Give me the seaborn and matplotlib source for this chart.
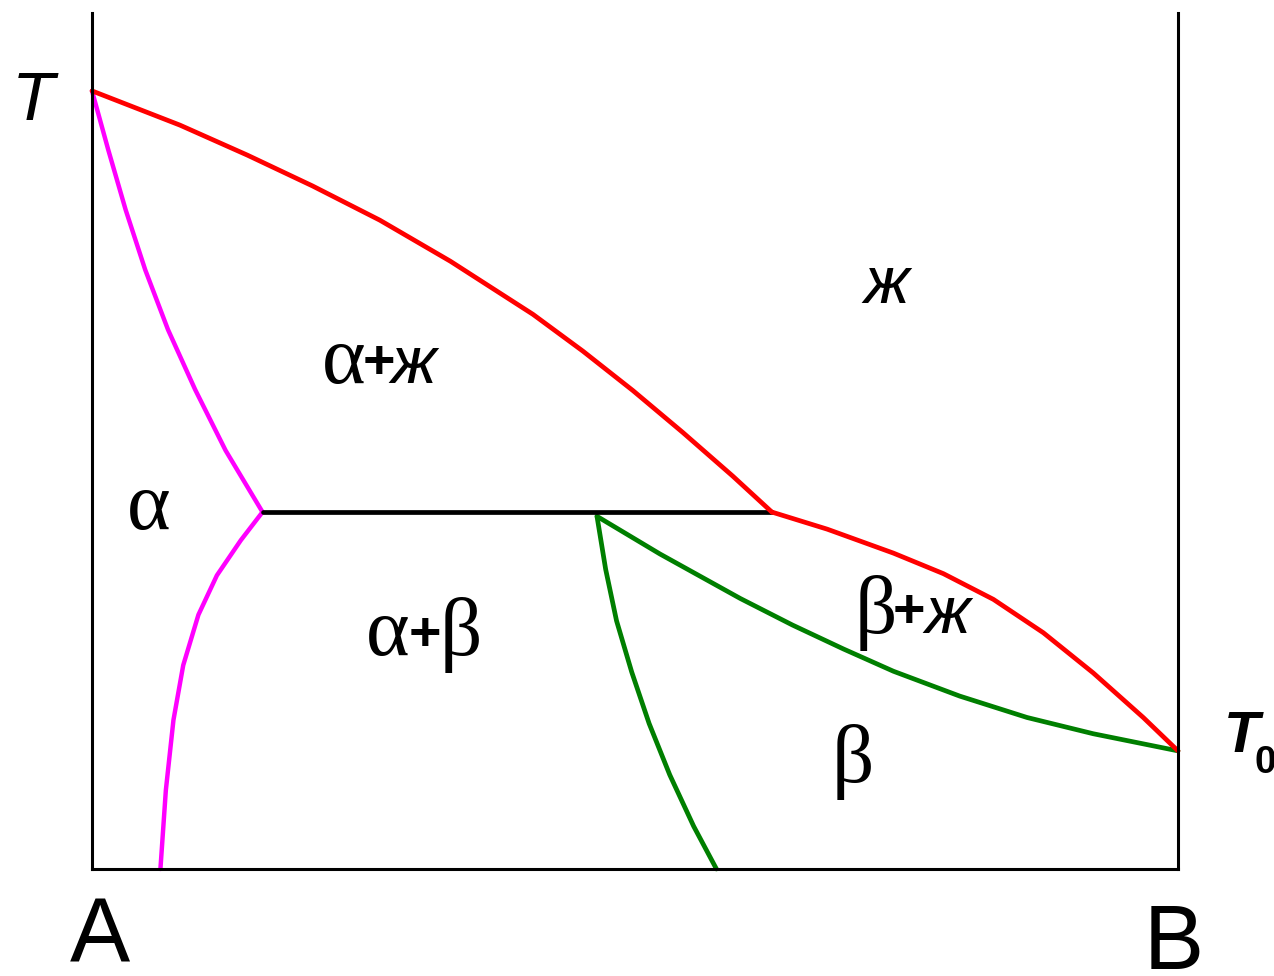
import matplotlib
matplotlib.use("Agg")
import matplotlib.pyplot as plt
import seaborn as sns
import pandas as pd

# Binary eutectic phase diagram A–B (composition in % B, temperature in relative units)
liquidus_a_comp = [0.0, 8.1, 14.3, 20.3, 26.5, 33.0, 40.6, 45.2, 49.8, 54.4, 59.0, 62.6]
liquidus_a_temp = [90.9, 86.9, 83.4, 79.8, 75.8, 71.0, 64.8, 60.5, 55.9, 51.0, 45.9, 41.7]

liquidus_b_comp = [62.6, 67.7, 73.8, 78.4, 83.0, 87.6, 92.2, 96.8, 100.0]
liquidus_b_temp = [41.7, 39.7, 36.9, 34.5, 31.5, 27.6, 22.9, 17.7, 13.8]

solidus_b_comp = [46.5, 52.3, 59.7, 64.5, 69.2, 73.8, 79.9, 86.1, 92.2, 100.0]
solidus_b_temp = [41.2, 36.8, 31.6, 28.5, 25.7, 23.1, 20.2, 17.7, 15.8, 13.8]

solvus_b_comp = [46.5, 47.3, 48.3, 49.7, 51.3, 53.2, 55.4, 57.5]
solvus_b_temp = [41.2, 35.0, 29.0, 23.0, 17.0, 11.0, 5.0, 0.0]

solidus_a_comp = [0.0, 1.5, 3.1, 4.9, 7.0, 9.5, 12.3, 15.7]
solidus_a_temp = [90.9, 84.0, 77.0, 70.0, 63.0, 56.0, 48.9, 41.7]

solvus_a_comp = [15.7, 13.7, 11.5, 9.8, 8.4, 7.5, 6.8, 6.3]
solvus_a_temp = [41.7, 38.4, 34.3, 29.7, 23.8, 17.4, 9.2, 0.0]

eutectic_comp = [15.7, 62.6]
eutectic_temp = [41.7, 41.7]

sns.set_theme(style="white")
plt.rcParams["font.family"] = ["DejaVu Sans"]
plt.rcParams["text.color"] = "black"

W, H = 1274, 976
fig = plt.figure(figsize=(W / 100, H / 100), dpi=100)
fig.patch.set_facecolor("white")
left, right, bottom, top = 92, 1178, 869, 13
ax = fig.add_axes([left / W, 1 - bottom / H, (right - left) / W, (bottom - top) / H])
ax.set_xlim(0, 100)
ax.set_ylim(0, 100)
ax.set_facecolor("white")


def curve(comp, temp, color, lw):
    df = pd.DataFrame({"comp": comp, "temp": temp})
    sns.lineplot(data=df, x="comp", y="temp", sort=False, estimator=None,
                 color=color, linewidth=lw, ax=ax, solid_capstyle="round",
                 solid_joinstyle="round", clip_on=False)


curve(solidus_a_comp, solidus_a_temp, "#ff00ff", 3.2)
curve(solvus_a_comp, solvus_a_temp, "#ff00ff", 3.2)
curve(solvus_b_comp, solvus_b_temp, "#007f00", 3.4)
curve(solidus_b_comp, solidus_b_temp, "#007f00", 3.4)
curve(eutectic_comp, eutectic_temp, "black", 3.4)
curve(liquidus_a_comp, liquidus_a_temp, "#ff0000", 3.4)
curve(liquidus_b_comp, liquidus_b_temp, "#ff0000", 3.4)

for side in ["left", "right", "bottom"]:
    ax.spines[side].set_visible(True)
    ax.spines[side].set_color("black")
    ax.spines[side].set_linewidth(2.2)
ax.spines["top"].set_visible(False)
ax.set_xticks([])
ax.set_yticks([])
ax.set_xlabel("")
ax.set_ylabel("")


def label(px, py, s, **kw):
    fig.text(px / W, 1 - py / H, s, color="black", **kw)


greek = dict(family="Liberation Serif", fontsize=60)
zhe = dict(family="Liberation Sans", style="italic", fontsize=48)
plus = dict(family="Liberation Sans", weight="bold", fontsize=40)

# axis names
label(33, 120, "T", family="Liberation Sans", style="italic", fontsize=50,
      ha="center", va="baseline")
label(1242, 752, "T", family="Liberation Sans", style="italic", weight="bold",
      fontsize=42, ha="center", va="baseline")
label(1265, 773, "0", family="Liberation Sans", weight="bold", fontsize=28,
      ha="center", va="baseline")
label(100, 962, "A", family="Liberation Sans", fontsize=65, ha="center", va="baseline")
label(1174, 969, "B", family="Liberation Sans", fontsize=65, ha="center", va="baseline")

# phase fields
label(886, 303, "ж", ha="center", va="baseline", **zhe)

label(344, 383, "α", ha="center", va="baseline", **greek)
label(379, 364, "+", ha="center", va="center", **plus)
label(413, 383, "ж", ha="center", va="baseline", **zhe)

label(149, 529, "α", ha="center", va="baseline", **greek)

label(388, 655, "α", ha="center", va="baseline", **greek)
label(425, 636, "+", ha="center", va="center", **plus)
label(461, 655, "β", ha="center", va="baseline", **greek)

label(876, 633, "β", ha="center", va="baseline", **greek)
label(909, 613, "+", ha="center", va="center", **plus)
label(947, 633, "ж", ha="center", va="baseline", **zhe)

label(853, 782, "β", ha="center", va="baseline", **greek)

fig.savefig("out.png", dpi=100, facecolor="white")
